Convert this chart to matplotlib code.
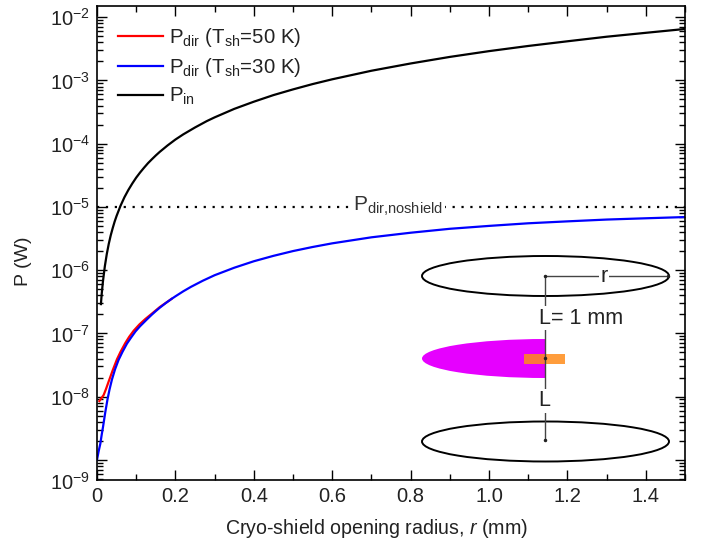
# === LIBRARY ===
import matplotlib
matplotlib.use("Agg")
from matplotlib import pyplot as plt
from matplotlib.patches import Ellipse, Rectangle, Wedge
from matplotlib.ticker import LogLocator, MultipleLocator, NullFormatter, FuncFormatter
import numpy as np

# === DATA ===
r_in = [0.01, 0.012, 0.015, 0.02, 0.025, 0.03, 0.035, 0.04, 0.045, 0.05, 0.06, 0.07, 0.08, 0.09, 0.1, 0.11, 0.12,
        0.13, 0.14, 0.15, 0.16, 0.18, 0.2, 0.22, 0.25, 0.28, 0.3, 0.35, 0.4, 0.45, 0.5, 0.55, 0.6, 0.7, 0.8, 0.9,
        1.0, 1.1, 1.2, 1.3, 1.4, 1.5]
p_in = [2.9e-7, 4.2e-7, 6.5e-7, 1.15e-6, 1.8e-6, 2.6e-6, 3.54e-6, 4.6e-6, 5.85e-6, 7.2e-6, 1.04e-5, 1.42e-5,
        1.85e-5, 2.34e-5, 2.9e-5, 3.5e-5, 4.16e-5, 4.9e-5, 5.66e-5, 6.5e-5, 7.4e-5, 9.36e-5, 1.16e-4, 1.4e-4,
        1.8e-4, 2.27e-4, 2.6e-4, 3.54e-4, 4.6e-4, 5.85e-4, 7.2e-4, 8.74e-4, 1.04e-3, 1.42e-3, 1.85e-3, 2.35e-3,
        2.9e-3, 3.5e-3, 4.15e-3, 4.9e-3, 5.65e-3, 6.5e-3]

r_dir30 = [0.0, 0.004, 0.0085, 0.012, 0.0153, 0.021, 0.027, 0.032, 0.038, 0.046, 0.055, 0.065, 0.0765, 0.087, 0.098,
           0.11, 0.1276, 0.14, 0.15, 0.16, 0.175, 0.19, 0.2, 0.22, 0.24, 0.27, 0.3, 0.35, 0.4, 0.45, 0.5, 0.55, 0.6,
           0.7, 0.8, 0.9, 1.0, 1.1, 1.2, 1.3, 1.4, 1.5]
p_dir30 = [1e-9, 1.35e-9, 1.8e-9, 2.5e-9, 3.3e-9, 5.6e-9, 9.2e-9, 1.3e-8, 1.85e-8, 2.7e-8, 3.8e-8, 5.1e-8, 6.9e-8,
           8.6e-8, 1.07e-7, 1.3e-7, 1.67e-7, 1.98e-7, 2.25e-7, 2.54e-7, 3e-7, 3.5e-7, 3.85e-7, 4.62e-7, 5.45e-7,
           6.8e-7, 8.3e-7, 1.09e-6, 1.38e-6, 1.68e-6, 2e-6, 2.32e-6, 2.65e-6, 3.3e-6, 3.9e-6, 4.5e-6, 5e-6, 5.5e-6,
           5.9e-6, 6.3e-6, 6.6e-6, 6.9e-6]

r_dir50 = [0.006, 0.011, 0.017, 0.023, 0.03, 0.04, 0.051, 0.06, 0.072, 0.082, 0.0935, 0.108, 0.123, 0.14, 0.16, 0.19]
p_dir50 = [8.5e-9, 9.4e-9, 1.06e-8, 1.32e-8, 1.75e-8, 2.6e-8, 3.9e-8, 5.1e-8, 7e-8, 8.8e-8, 1.1e-7, 1.38e-7,
           1.68e-7, 2.05e-7, 2.6e-7, 3.5e-7]

p_noshield = 1e-5
x_ticks = [0, 0.2, 0.4, 0.6, 0.8, 1.0, 1.2, 1.4]

# === FIGURE ===
plt.rcParams['font.family'] = ['Liberation Sans', 'DejaVu Sans']
plt.rcParams['mathtext.fontset'] = 'custom'
plt.rcParams['mathtext.rm'] = 'Liberation Sans'
plt.rcParams['mathtext.it'] = 'Liberation Sans:italic'
plt.rcParams['mathtext.default'] = 'regular'
plt.rcParams['text.color'] = '#222222'

fig = plt.figure(figsize=(7.1, 5.42), dpi=100)
ax = fig.add_axes([97 / 710, 1 - 480 / 542, (685 - 97) / 710, (480 - 6) / 542])

ax.plot(r_dir50, p_dir50, color='red', lw=1.6, label=r'P$_{dir}$ (T$_{sh}$=50 K)')
ax.plot(r_dir30, p_dir30, color='blue', lw=1.6, label=r'P$_{dir}$ (T$_{sh}$=30 K)')
ax.plot(r_in, p_in, color='black', lw=1.6, label=r'P$_{in}$')
ax.axhline(p_noshield, color='black', lw=1.6, ls=(0, (1, 3)))
ax.text(0.768, p_noshield, r'P$_{dir{,}noshield}$', fontsize=15, color='#333333', ha='center', va='center',
        bbox=dict(facecolor='white', edgecolor='none', pad=1))


def y_label(v, p):
    # the 10^-9 label sits at the corner in the original, added by hand below
    e = int(round(np.log10(v)))
    return '$10^{%d}$' % e if -8 <= e <= -2 else ''


ax.set_yscale('log')
ax.set_xlim(0, 1.5)
ax.set_ylim(4.8e-10, 1.5e-2)
ax.set_xticks(x_ticks)
ax.xaxis.set_major_formatter(FuncFormatter(lambda v, p: '0' if v == 0 else '%.1f' % v))
ax.xaxis.set_minor_locator(MultipleLocator(0.1))
ax.yaxis.set_major_locator(LogLocator(base=10, numticks=12))
ax.yaxis.set_major_formatter(FuncFormatter(y_label))
ax.yaxis.set_minor_locator(LogLocator(base=10, subs=np.arange(2, 10), numticks=12))
ax.yaxis.set_minor_formatter(NullFormatter())
ax.tick_params(which='major', direction='in', length=7.5, width=1.0, top=True, right=True, labelsize=14.5, pad=5,
               labelcolor='#222222')
ax.tick_params(which='minor', direction='in', length=4, width=1.0, top=True, right=True)
for s in ax.spines.values():
    s.set_linewidth(1.2)
ax.set_xlabel(r'Cryo-shield opening radius, $\mathit{r}$ (mm)', fontsize=14.1, color='#222222')
ax.xaxis.set_label_coords((377 - 97) / 588, -(517 - 480) / 474)
ax.set_ylabel('P (W)', fontsize=14, color='#222222')
ax.yaxis.set_label_coords(-(97 - 32) / 588, (480 - 261) / 474)

ax.legend(loc='upper left', bbox_to_anchor=(0.036, 0.958), frameon=False, fontsize=14.7, handlelength=2.2,
          handletextpad=0.3, labelspacing=0.34, borderaxespad=0, borderpad=0)

# inset sketch, drawn in pixel coords of the picture
ov = fig.add_axes([0, 0, 1, 1], facecolor='none')
ov.set_xlim(0, 710)
ov.set_ylim(542, 0)
ov.axis('off')

ov.text(90, 483, '$10^{-9}$', fontsize=14.5, ha='right', va='center', color='#222222')

ov.add_patch(Ellipse((545.5, 276), 247, 40, fc='none', ec='black', lw=1.4))
ov.add_patch(Ellipse((545.5, 441.5), 247, 40, fc='none', ec='black', lw=1.4))
ov.add_patch(Wedge((0, 0), 1, 90, 270, fc='#e600ff', ec='none',
                   transform=matplotlib.transforms.Affine2D().scale(123, 19.5).translate(545, 358.5) + ov.transData))
ov.plot([545, 545], [276, 440], color='#444444', lw=1)
ov.add_patch(Rectangle((524, 354), 41, 10, fc='#ff8c1a', ec='none', alpha=0.85))
ov.plot([545, 668], [276, 276], color='#444444', lw=1)
ov.plot([545, 545, 545, 668], [276, 358, 440, 276], ls='none', marker='.', ms=3, color='#222222')
ov.text(604, 276, 'r', fontsize=15.5, ha='center', va='center', color='#222222',
        bbox=dict(facecolor='white', edgecolor='none', pad=1))
ov.text(581, 318, 'L= 1 mm', fontsize=15.5, ha='center', va='center', color='#222222',
        bbox=dict(facecolor='white', edgecolor='none', pad=1))
ov.text(544, 401, 'L', fontsize=15.5, ha='center', va='center', color='#222222',
        bbox=dict(facecolor='white', edgecolor='none', pad=1))

fig.savefig('out.png', dpi=100)
